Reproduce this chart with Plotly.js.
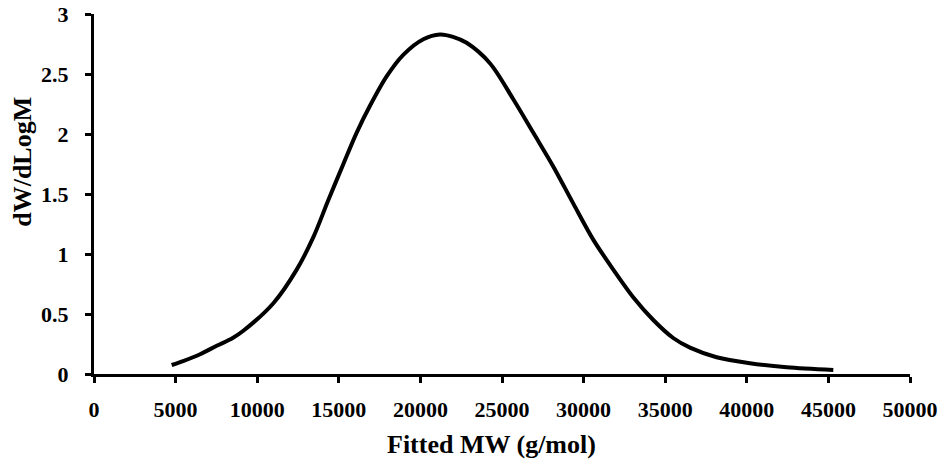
<!DOCTYPE html>
<html>
<head>
<meta charset="utf-8">
<script src="https://cdn.plot.ly/plotly-3.0.1.min.js"></script>
<style>html,body{margin:0;padding:0;background:#fff;}#chart{width:945px;height:463px;}</style>
</head>
<body>
<div id="chart"></div>
<script>
const fittedMW = [4760, 5500, 6500, 7520, 8500, 9150, 10990, 12420, 13440, 14360, 15280, 16090, 16910, 17930, 18950, 20180, 21200, 22000, 22830, 24260, 25690, 26920, 28140, 29370, 30590, 31820, 33040, 34270, 35490, 36520, 38150, 40190, 42440, 45300];
const dWdLogM = [0.075, 0.11, 0.165, 0.235, 0.30, 0.36, 0.59, 0.87, 1.14, 1.45, 1.75, 2.01, 2.235, 2.48, 2.66, 2.79, 2.83, 2.81, 2.76, 2.59, 2.29, 2.01, 1.73, 1.42, 1.12, 0.87, 0.64, 0.45, 0.30, 0.22, 0.14, 0.09, 0.056, 0.033];
const xTicks = [0, 5000, 10000, 15000, 20000, 25000, 30000, 35000, 40000, 45000, 50000];
const yTicks = [0, 0.5, 1, 1.5, 2, 2.5, 3];
const xTitle = "Fitted MW (g/mol)";
const yTitle = "dW/dLogM";

const fontFam = "'Liberation Serif', 'Times New Roman', serif";
const trace = {
  x: fittedMW, y: dWdLogM, type: 'scatter', mode: 'lines',
  line: {color: '#000', width: 4, shape: 'spline', smoothing: 0.9},
  hoverinfo: 'skip'
};
const layout = {
  width: 945, height: 463,
  margin: {l: 94, r: 35, t: 14, b: 89},
  paper_bgcolor: '#fff', plot_bgcolor: '#fff',
  showlegend: false,
  font: {family: fontFam, color: '#000'},
  xaxis: {
    range: [0, 50000], tickvals: xTicks, ticktext: xTicks.map(String),
    showgrid: false, zeroline: false, showline: true, linecolor: '#000', linewidth: 3,
    ticks: 'outside', ticklen: 6, tickwidth: 3, tickcolor: '#000',
    tickfont: {family: fontFam, size: 22, weight: 700, color: '#000'},
    ticklabelstandoff: 8
  },
  yaxis: {
    range: [0, 3], tickvals: yTicks, ticktext: yTicks.map(String),
    showgrid: false, zeroline: false, showline: true, linecolor: '#000', linewidth: 3,
    ticks: 'outside', ticklen: 6, tickwidth: 3, tickcolor: '#000',
    tickfont: {family: fontFam, size: 22, weight: 700, color: '#000'},
    ticklabelstandoff: 12
  },
  annotations: [
    {text: '<b>' + xTitle + '</b>', xref: 'paper', yref: 'paper', x: 0.487, y: -0.197, xanchor: 'center', yanchor: 'middle',
     showarrow: false, font: {family: fontFam, size: 26, color: '#000'}},
    {text: '<b>' + yTitle + '</b>', xref: 'paper', yref: 'paper', x: -0.088, y: 0.59, xanchor: 'center', yanchor: 'middle',
     textangle: -90, showarrow: false, font: {family: fontFam, size: 26, color: '#000'}}
  ]
};
Plotly.newPlot('chart', [trace], layout, {staticPlot: true, displayModeBar: false});
</script>
</body>
</html>
